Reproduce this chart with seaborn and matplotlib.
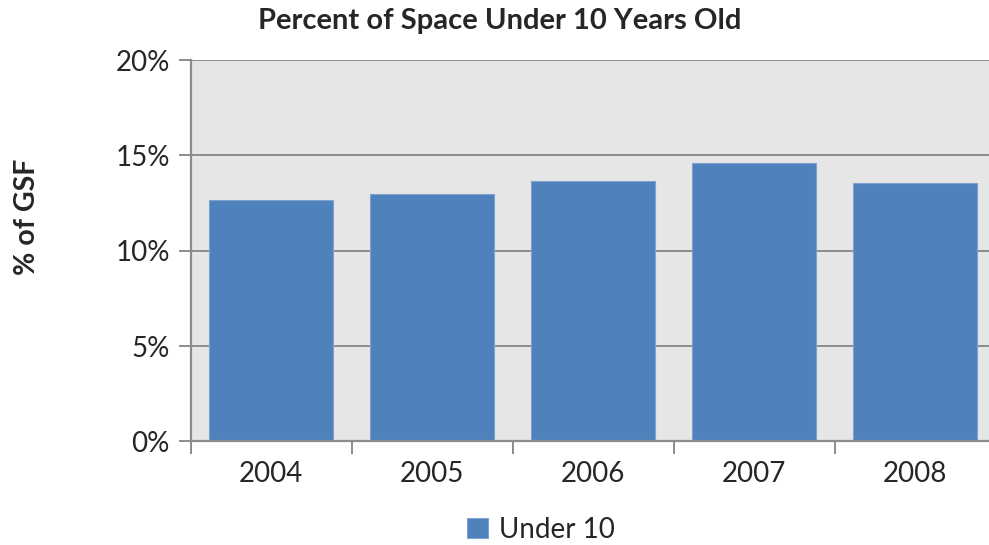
import matplotlib
matplotlib.use("Agg")
import matplotlib.pyplot as plt
import seaborn as sns
import pandas as pd
import numpy as np
from matplotlib.ticker import FixedLocator, NullFormatter, FixedFormatter

years = ["2004", "2005", "2006", "2007", "2008"]
under_10 = [12.64, 12.97, 13.66, 14.60, 13.54]
y_ticks = [0, 5, 10, 15, 20]
y_tick_labels = ["0%", "5%", "10%", "15%", "20%"]
series_name = "Under 10"
title = "Percent of Space Under 10 Years Old"
y_label = "% of GSF"

df = pd.DataFrame({"year": years, "pct": under_10})

sns.set_theme(style="white")
plt.rcParams["font.family"] = ["Lato", "DejaVu Sans"]

bar_color = "#4F81BD"
grid_color = "#8C8C8C"

fig = plt.figure(figsize=(9.89, 5.45), dpi=100)
ax = fig.add_axes([0.1928, 0.19, 0.814, 0.6999])
ax.set_facecolor("#E6E6E6")

sns.barplot(data=df, x="year", y="pct", color=bar_color, saturation=1,
            width=0.768, edgecolor="#7EA3D0", linewidth=0.8, ax=ax, zorder=3,
            label=series_name)

ax.set_ylim(0, 20)
ax.set_xlim(-0.5, len(years) - 0.5)
ax.set_yticks(y_ticks)
ax.set_yticklabels(y_tick_labels, fontsize=20)
for t in y_ticks[1:]:
    ax.axhline(t, color=grid_color, lw=1.4, zorder=1)

# category labels centred, tick marks on the category boundaries
ax.xaxis.set_major_locator(FixedLocator(np.arange(-0.5, len(years), 1.0)))
ax.xaxis.set_major_formatter(NullFormatter())
ax.xaxis.set_minor_locator(FixedLocator(np.arange(len(years))))
ax.xaxis.set_minor_formatter(FixedFormatter(years))
ax.tick_params(axis="x", which="major", direction="out", length=9, width=1.4,
               color=grid_color, bottom=True)
ax.tick_params(axis="x", which="minor", length=0, labelsize=20, pad=14,
               bottom=True)
ax.tick_params(axis="y", direction="out", length=9, width=1.4,
               color=grid_color, left=True, pad=6)

for s in ["top", "right"]:
    ax.spines[s].set_visible(False)
for s in ["left", "bottom"]:
    ax.spines[s].set_color(grid_color)
    ax.spines[s].set_linewidth(1.6)
    ax.spines[s].set_zorder(4)

ax.set_xlabel("")
ax.set_ylabel("")
fig.text(0.027, 0.603, y_label, rotation=90, ha="center", va="center",
         fontsize=20.5, fontweight="bold")
fig.text(0.5055, 0.962, title, ha="center", va="center", fontsize=21,
         fontweight="bold")

handles, labels = ax.get_legend_handles_labels()
if ax.get_legend() is not None:
    ax.get_legend().remove()
fig.legend(handles, labels, loc="center", bbox_to_anchor=(0.547, 0.028),
           frameon=False, fontsize=20, handlelength=0.75, handleheight=0.75,
           handletextpad=0.4)

fig.savefig("out.png", dpi=100)
